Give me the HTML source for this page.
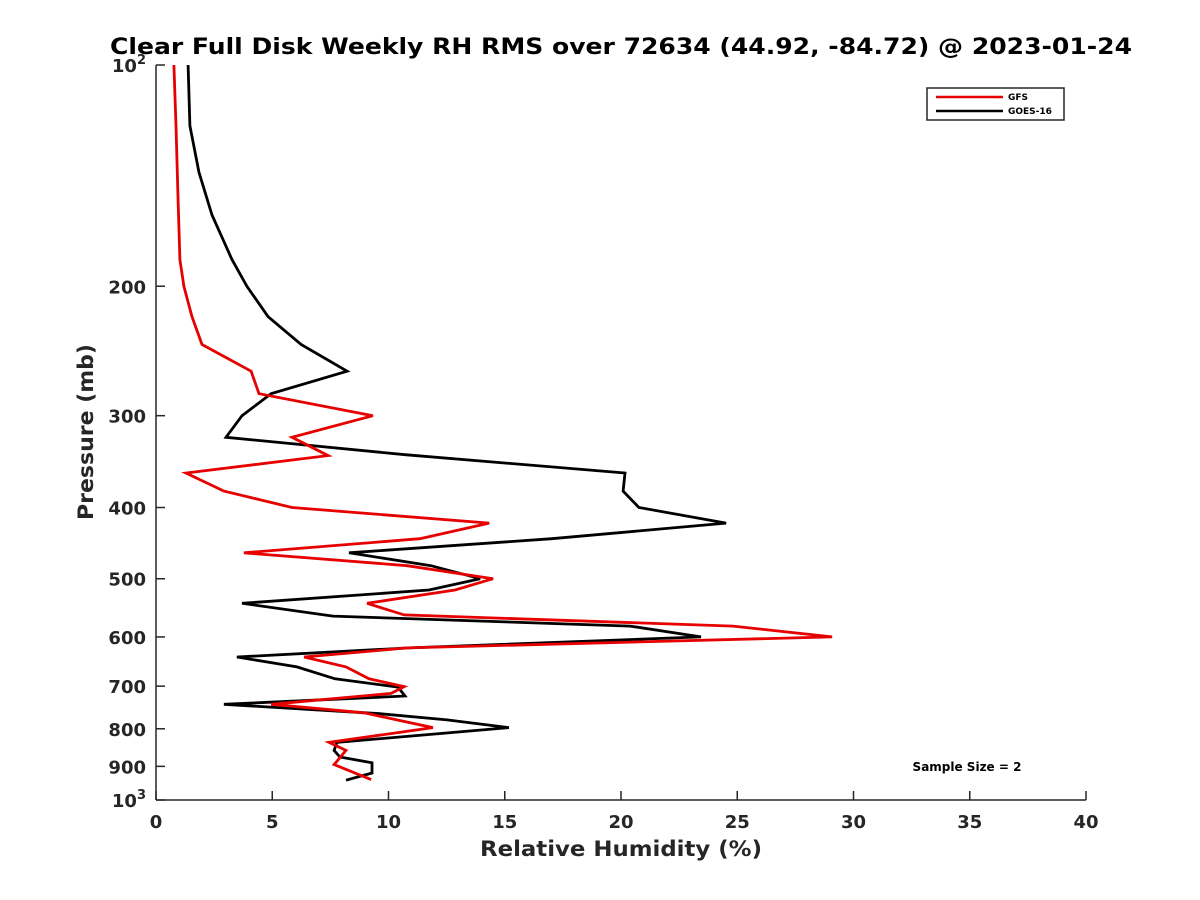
<!DOCTYPE html>
<html><head><meta charset="utf-8"><style>
html,body{margin:0;padding:0;background:#fff;}
svg{display:block;font-family:"DejaVu Sans","Liberation Sans",sans-serif;}
</style></head><body>
<svg id="chart" width="1200" height="900" viewBox="0 0 1200 900">
<rect width="1200" height="900" fill="#fff"/>
<text x="621" y="54" text-anchor="middle" font-size="22" font-weight="bold" fill="#000" textLength="1022" lengthAdjust="spacingAndGlyphs">Clear Full Disk Weekly RH RMS over 72634 (44.92, -84.72) @ 2023-01-24</text>
<g id="axes"></g>
<g id="series"></g>
<text x="621" y="856" text-anchor="middle" font-size="21" font-weight="bold" fill="#262626" textLength="282" lengthAdjust="spacingAndGlyphs">Relative Humidity (%)</text>
<text transform="translate(93,432) rotate(-90)" text-anchor="middle" font-size="21" font-weight="bold" fill="#262626" textLength="176" lengthAdjust="spacingAndGlyphs">Pressure (mb)</text>
<text x="967" y="771" text-anchor="middle" font-size="12" font-weight="bold" fill="#000">Sample Size = 2</text>
<g>
<rect x="927" y="88" width="137" height="32" fill="#fff" stroke="#262626" stroke-width="1.5"/>
<line x1="936" y1="97" x2="1003" y2="97" stroke="#e60000" stroke-width="2.5"/>
<text x="1008" y="100" font-size="9" font-weight="bold">GFS</text>
<line x1="936" y1="111" x2="1003" y2="111" stroke="#000" stroke-width="2.5"/>
<text x="1008" y="114" font-size="9" font-weight="bold">GOES-16</text>
</g>
</svg>
<script>
const xTicks = [0,5,10,15,20,25,30,35,40];
const yTicks = [100,200,300,400,500,600,700,800,900,1000];
const yTickLabels = ["10²","200","300","400","500","600","700","800","900","10³"];
const gfsRH = [0.77,0.86,0.95,1.03,1.20,1.55,1.98,4.09,4.43,9.33,5.85,7.40,1.29,2.92,5.85,14.33,11.35,3.78,10.80,14.50,12.86,9.08,10.67,24.82,29.08,10.80,6.37,8.17,9.16,10.67,10.11,4.95,8.95,11.91,7.44,8.17,7.66,9.25];
const gfsP = [100,121,153,184,200,220,240,261,280,300,321,340,359,380,400,420,441,461,480,500,518,540,560,580,600,621,639,659,684,701,716,741,761,797,835,856,895,938];
const goesRH = [1.38,1.46,1.85,2.41,3.27,3.91,4.82,6.24,8.22,4.95,3.70,3.01,10.71,20.17,20.09,20.77,24.52,17.03,8.30,11.83,13.94,11.74,3.70,7.61,20.39,23.44,10.88,3.48,6.06,7.70,10.41,10.71,2.92,9.63,12.52,15.18,7.78,7.66,7.91,9.29,9.29,8.17];
const goesP = [100,121,140,160,184,200,220,240,261,280,300,321,339,359,380,400,420,441,461,480,500,518,540,562,580,600,621,639,659,684,702,722,741,763,778,797,835,856,874,890,919,940];

const L=156,R=1086,T=65,B=800;
const xs = v => L + (v-0)/(40-0)*(R-L);
const ys = p => T + (Math.log10(p)-2)/(3-2)*(B-T);
const NS="http://www.w3.org/2000/svg";
function mk(tag,attrs,parent){const e=document.createElementNS(NS,tag);for(const k in attrs)e.setAttribute(k,attrs[k]);parent.appendChild(e);return e;}
const ax=document.getElementById('axes');
let e=mk('line',{x1:L,y1:T,x2:L,y2:B,stroke:'#262626','stroke-width':1.5},ax);


e=mk('line',{x1:L,y1:B,x2:R,y2:B,stroke:'#262626','stroke-width':1.5},ax);


xTicks.forEach(v=>{
  const x=xs(v);
  const t=mk('line',{x1:x,y1:B,x2:x,y2:B-9,stroke:'#262626','stroke-width':1.5},ax);
  
  
  const l=mk('text',{x:x,y:B+28,'text-anchor':'middle','font-size':18,'font-weight':'bold',fill:'#262626'},ax);
  l.textContent=String(v);
  
  
});
yTicks.forEach((p,i)=>{
  const y=ys(p);
  const t=mk('line',{x1:L,y1:y,x2:L+9,y2:y,stroke:'#262626','stroke-width':1.5},ax);
  
  
  const lab=yTickLabels[i];
  const l=mk('text',{x:L-10,y:y+7,'text-anchor':'end','font-size':18,'font-weight':'bold',fill:'#262626'},ax);
  if(lab.length===3 && (lab.endsWith('²')||lab.endsWith('³'))){
    l.textContent=lab.slice(0,2);
    const s=mk('tspan',{dy:-8,'font-size':13},l);
    s.textContent=lab.endsWith('²')?'2':'3';
  } else l.textContent=lab;
  
  
});
const sg=document.getElementById('series');
function line(rh,p,color,name){
  const pts=rh.map((v,i)=>xs(v).toFixed(1)+','+ys(p[i]).toFixed(1)).join(' ');
  const pl=mk('polyline',{points:pts,fill:'none',stroke:color,'stroke-width':2.8,'stroke-linejoin':'miter'},sg);
  
  
}
line(goesRH,goesP,'#000','goes16-line');
line(gfsRH,gfsP,'#e60000','gfs-line');
</script>
</body></html>
